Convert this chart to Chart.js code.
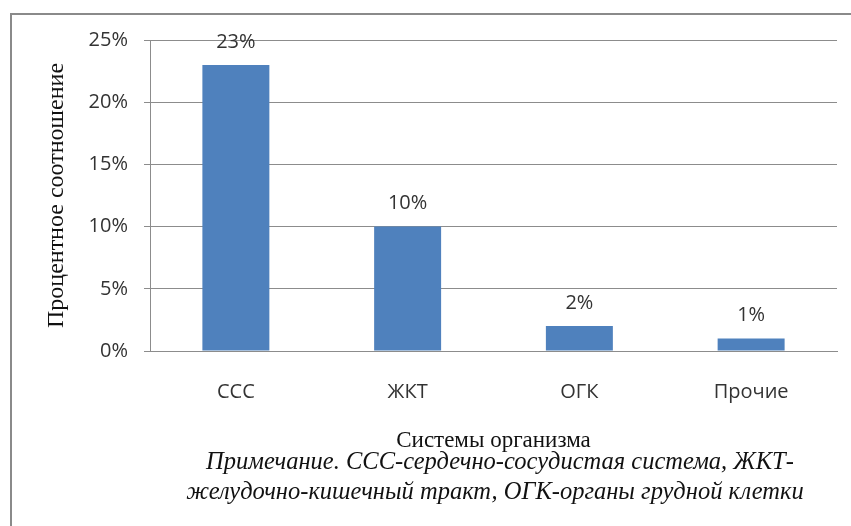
<!DOCTYPE html>
<html>
  <head>
    <meta charset="utf-8">
    <title>Системы организма</title>
    <style>
      body { margin: 0; background: #fff; }
      #wrap { position: relative; width: 851px; height: 526px; overflow: hidden; }
      #frame { position: absolute; left: 10px; top: 13px; width: 900px; height: 600px;
               border-left: 2px solid #8a8a8a; border-top: 2px solid #8a8a8a; }
      canvas { position: absolute; left: 0; top: 0; }
      .note { position: absolute; left: 147px; width: 700px; text-align: center;
              font-family: "Liberation Serif", "DejaVu Serif", serif; font-style: italic;
              font-size: 24.5px; color: #111; line-height: 30px; white-space: nowrap; }
    </style>
  </head>
  <body>
    <script src="https://cdn.jsdelivr.net/npm/chart.js@4/dist/chart.umd.min.js"></script>

    <div id="wrap">
      <div id="frame"></div>
      <canvas id="orgChart" width="851" height="526"></canvas>
      <div class="note" style="top:446px; left:150px">Примечание. ССС-сердечно-сосудистая система, ЖКТ-</div>
      <div class="note" style="top:476px; left:145px">желудочно-кишечный тракт, ОГК-органы грудной клетки</div>
    </div>

    <script>
      // data
      const systems = ["ССС", "ЖКТ", "ОГК", "Прочие"];
      const shares = [23, 10, 2, 1];
      const yTicks = [0, 5, 10, 15, 20, 25];

      const tickFont = { family: "'Open Sans', sans-serif", size: 20 };

      // percent labels above bars
      const barLabels = {
        id: "barLabels",
        afterDatasetsDraw(chart) {
          const ctx = chart.ctx;
          const meta = chart.getDatasetMeta(0);
          ctx.save();
          ctx.font = "20px 'Open Sans', sans-serif";
          ctx.fillStyle = "#333";
          ctx.textAlign = "center";
          ctx.textBaseline = "middle";
          meta.data.forEach((bar, i) => {
            ctx.fillText(shares[i] + "%", bar.x, bar.y - 23);
          });
          ctx.restore();
        }
      };

      const chart = new Chart(document.getElementById("orgChart"), {
        type: "bar",
        data: {
          labels: systems,
          datasets: [{
            data: shares,
            backgroundColor: "#4f81bd",
            barPercentage: 0.39,
            categoryPercentage: 1
          }]
        },
        options: {
          responsive: false,
          animation: false,
          devicePixelRatio: 1,
          layout: { padding: { top: 40, right: 14, left: 0, bottom: 0 } },
          plugins: { legend: { display: false }, tooltip: { enabled: false } },
          scales: {
            x: {
              grid: { display: false },
              border: { display: true, color: "#8c8c8c" },
              ticks: { font: tickFont, color: "#333", padding: 21 },
              title: { display: true, text: "Системы организма", color: "#111",
                       font: { family: "'Liberation Serif', serif", size: 23 },
                       padding: { top: 18, bottom: 71 } },
              afterFit: (s) => { s.height = 175; }
            },
            y: {
              min: 0,
              max: 25,
              afterBuildTicks: (s) => { s.ticks = yTicks.map(v => ({ value: v })); },
              grid: { color: "#8c8c8c", tickLength: 6 },
              border: { display: true, color: "#8c8c8c" },
              ticks: { font: tickFont, color: "#333", padding: 16, callback: (v) => v + "%" },
              title: { display: true, text: "Процентное соотношение", color: "#111",
                       font: { family: "'Liberation Serif', serif", size: 24 },
                       padding: { top: 42, bottom: 0 } },
              afterFit: (s) => { s.width = 150; }
            }
          }
        },
        plugins: [barLabels]
      });
    </script>
  </body>
</html>
